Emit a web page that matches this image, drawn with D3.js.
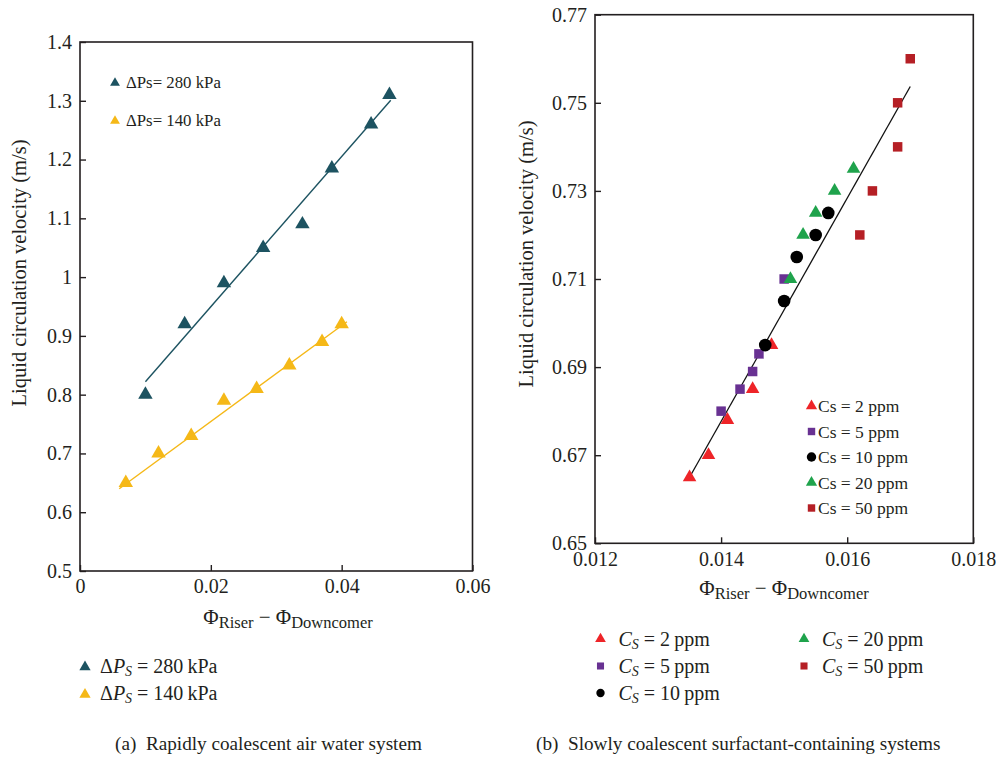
<!DOCTYPE html>
<html>
<head>
<meta charset="utf-8">
<script src="https://cdn.jsdelivr.net/npm/d3@7"></script>
<style>
  body { margin: 0; background: #fff; }
  svg text { font-family: "Liberation Serif", "DejaVu Serif", serif; fill: #231f20; }
</style>
</head>
<body>
<svg id="chart" width="996" height="759"></svg>
<script>

// ---- Data: panel (a) ----
var dpHighX = [0.010, 0.016, 0.022, 0.028, 0.034, 0.0385, 0.0445, 0.0473];
var dpHighY = [0.80, 0.92, 0.99, 1.05, 1.09, 1.185, 1.26, 1.31];
var dpLowX = [0.007, 0.012, 0.017, 0.022, 0.027, 0.032, 0.037, 0.040];
var dpLowY = [0.65, 0.70, 0.73, 0.79, 0.81, 0.85, 0.89, 0.92];
var fitHighX = [0.0100, 0.0475];
var fitHighY = [0.822, 1.301];
var fitLowX = [0.0060, 0.0408];
var fitLowY = [0.640, 0.924];
var xTicksA = [0, 0.02, 0.04, 0.06];
var yTicksA = [0.5, 0.6, 0.7, 0.8, 0.9, 1.0, 1.1, 1.2, 1.3, 1.4];

// ---- Data: panel (b) ----
var cs2X = [0.0135, 0.0138, 0.0141, 0.0145, 0.0148];
var cs2Y = [0.665, 0.670, 0.678, 0.685, 0.695];
var cs5X = [0.0140, 0.0143, 0.0145, 0.0146, 0.0150];
var cs5Y = [0.680, 0.685, 0.689, 0.693, 0.710];
var cs10X = [0.0147, 0.0150, 0.0152, 0.0155, 0.0157];
var cs10Y = [0.695, 0.705, 0.715, 0.720, 0.725];
var cs20X = [0.0151, 0.0153, 0.0155, 0.0158, 0.0161];
var cs20Y = [0.710, 0.720, 0.725, 0.730, 0.735];
var cs50X = [0.0162, 0.0164, 0.0168, 0.0168, 0.0170];
var cs50Y = [0.720, 0.730, 0.740, 0.750, 0.760];
var fitCsX = [0.0135, 0.0170];
var fitCsY = [0.665, 0.7537];
var xTicksB = [0.012, 0.014, 0.016, 0.018];
var yTicksB = [0.65, 0.67, 0.69, 0.71, 0.73, 0.75, 0.77];

var teal = "#1d5361", gold = "#f5b817";

var svg = d3.select("#chart");

function zip(xs, ys) {
    return xs.map(function(x, i) { return [x, ys[i]]; });
}

function frame(g, x, y, xTicks, yTicks, xFmt, yFmt, xPad) {
    var w = x.range()[1] - x.range()[0];
    var h = y.range()[0] - y.range()[1];

    var xAxis = g.append("g")
        .attr("transform", "translate(0," + y.range()[0] + ")")
        .call(d3.axisBottom(x).tickValues(xTicks).tickFormat(xFmt).tickSize(-6).tickPadding(xPad));
    var yAxis = g.append("g")
        .attr("transform", "translate(" + x.range()[0] + ",0)")
        .call(d3.axisLeft(y).tickValues(yTicks).tickFormat(yFmt).tickSize(-6).tickPadding(8));

    [xAxis, yAxis].forEach(function(a) {
        a.select(".domain").remove();
        a.selectAll("line").attr("stroke", "#231f20").attr("stroke-width", 1.4);
        a.selectAll("text").style("font-size", "20px").attr("fill", "#231f20");
    });

    g.append("rect")
        .attr("x", x.range()[0])
        .attr("y", y.range()[1])
        .attr("width", w)
        .attr("height", h)
        .attr("fill", "none")
        .attr("stroke", "#231f20")
        .attr("stroke-width", 1.6);
}

function phiTitle(g, cx, cy) {
    var t = g.append("text")
        .attr("x", cx)
        .attr("y", cy)
        .attr("text-anchor", "middle")
        .style("font-size", "21px");
    t.append("tspan").text("\u03A6");
    t.append("tspan").attr("dy", 4).style("font-size", "16.5px").text("Riser");
    t.append("tspan").attr("dy", -4).text(" \u2212 \u03A6");
    t.append("tspan").attr("dy", 4).style("font-size", "16.5px").text("Downcomer");
}

function yTitle(g, cx, cy) {
    g.append("text")
        .attr("transform", "translate(" + cx + "," + cy + ") rotate(-90)")
        .attr("text-anchor", "middle")
        .style("font-size", "20.5px")
        .text("Liquid circulation velocity (m/s)");
}

function marker(type, size) {
    return d3.symbol().type(type).size(size)();
}

// ---- Panel (a) ----
function panelA() {
    var g = svg.append("g").attr("class", "panel-a");
    var x = d3.scaleLinear().domain([0, 0.06]).range([80, 472.5]);
    var y = d3.scaleLinear().domain([0.5, 1.4]).range([571, 42]);

    frame(g, x, y, xTicksA, yTicksA, function(d) { return d === 0 ? "0" : d3.format(".2f")(d); }, function(d) { return d3.format("")(+d.toFixed(1)); }, 8);

    var line = d3.line().x(function(d) { return x(d[0]); }).y(function(d) { return y(d[1]); });

    var series = [
        { pts: zip(dpHighX, dpHighY), fit: zip(fitHighX, fitHighY), color: teal },
        { pts: zip(dpLowX, dpLowY), fit: zip(fitLowX, fitLowY), color: gold }
    ];

    series.forEach(function(s) {
        g.append("path")
            .attr("d", line(s.fit))
            .attr("fill", "none")
            .attr("stroke", s.color)
            .attr("stroke-width", 1.4);
        g.selectAll(null)
            .data(s.pts)
            .enter().append("path")
            .attr("d", marker(d3.symbolTriangle, 90))
            .attr("fill", s.color)
            .attr("transform", function(d) { return "translate(" + x(d[0]) + "," + y(d[1]) + ")"; });
    });

    // inner legend
    var inner = [{ c: teal, t: "\u0394Ps= 280 kPa" }, { c: gold, t: "\u0394Ps= 140 kPa" }];
    inner.forEach(function(d, i) {
        var yy = 82 + i * 38;
        g.append("path")
            .attr("d", marker(d3.symbolTriangle, 42))
            .attr("fill", d.c)
            .attr("transform", "translate(115," + (yy + 1) + ")");
        g.append("text")
            .attr("x", 126)
            .attr("y", yy + 5.5)
            .style("font-size", "16.8px")
            .text(d.t);
    });

    phiTitle(g, 288, 624);
    yTitle(g, 26, 273);

    // legend below
    var lower = [{ c: teal, v: "280" }, { c: gold, v: "140" }];
    lower.forEach(function(d, i) {
        var yy = 667 + i * 27.5;
        g.append("path")
            .attr("d", marker(d3.symbolTriangle, 55))
            .attr("fill", d.c)
            .attr("transform", "translate(85," + yy + ")");
        var t = g.append("text")
            .attr("x", 100)
            .attr("y", yy + 5.5)
            .style("font-size", "20px");
        t.append("tspan").text("\u0394");
        t.append("tspan").style("font-style", "italic").text("P");
        t.append("tspan").attr("dy", 3).style("font-style", "italic").style("font-size", "14px").text("S");
        t.append("tspan").attr("dy", -3).text(" = " + d.v + "\u2009kPa");
    });

    g.append("text")
        .attr("x", 115)
        .attr("y", 750)
        .style("font-size", "19.2px")
        .style("white-space", "pre")
        .text("(a)  Rapidly coalescent air water system");
}

// ---- Panel (b) ----
function panelB() {
    var g = svg.append("g").attr("class", "panel-b");
    var x = d3.scaleLinear().domain([0.012, 0.018]).range([595, 973.3]);
    var y = d3.scaleLinear().domain([0.65, 0.77]).range([543.3, 14.7]);

    frame(g, x, y, xTicksB, yTicksB, d3.format(".3f"), d3.format(".2f"), 9);

    var line = d3.line().x(function(d) { return x(d[0]); }).y(function(d) { return y(d[1]); });
    g.append("path")
        .attr("d", line(zip(fitCsX, fitCsY)))
        .attr("fill", "none")
        .attr("stroke", "#111")
        .attr("stroke-width", 1.3);

    var groups = [
        { pts: zip(cs2X, cs2Y), type: d3.symbolTriangle, size: 80, c: "#ee2428", label: "2" },
        { pts: zip(cs5X, cs5Y), type: d3.symbolSquare, size: 90, c: "#683192", label: "5" },
        { pts: zip(cs10X, cs10Y), type: d3.symbolCircle, size: 125, c: "#000000", label: "10" },
        { pts: zip(cs20X, cs20Y), type: d3.symbolTriangle, size: 80, c: "#1fa34c", label: "20" },
        { pts: zip(cs50X, cs50Y), type: d3.symbolSquare, size: 90, c: "#b51f25", label: "50" }
    ];

    groups.forEach(function(s) {
        g.selectAll(null)
            .data(s.pts)
            .enter().append("path")
            .attr("d", marker(s.type, s.size))
            .attr("fill", s.c)
            .attr("transform", function(d) { return "translate(" + x(d[0]) + "," + y(d[1]) + ")"; });
    });

    // inner legend
    groups.forEach(function(s, i) {
        var yy = 406 + i * 25.5;
        g.append("path")
            .attr("d", marker(s.type, s.type === d3.symbolCircle ? 70 : 55))
            .attr("fill", s.c)
            .attr("transform", "translate(811.5," + yy + ")");
        g.append("text")
            .attr("x", 818)
            .attr("y", yy + 6)
            .style("font-size", "17.5px")
            .text("Cs = " + s.label + " ppm");
    });

    phiTitle(g, 784, 595);
    yTitle(g, 533, 254);

    // legend below
    var pos = [[600.5, 639], [600.5, 666], [600.5, 693], [804, 639], [804, 666]];
    groups.forEach(function(s, i) {
        var p = pos[i];
        g.append("path")
            .attr("d", marker(s.type, s.type === d3.symbolCircle ? 55 : 50))
            .attr("fill", s.c)
            .attr("transform", "translate(" + p[0] + "," + p[1] + ")");
        var t = g.append("text")
            .attr("x", p[0] + 18)
            .attr("y", p[1] + 6.5)
            .style("font-size", "20px")
            .style("white-space", "pre");
        t.append("tspan").style("font-style", "italic").text("C");
        t.append("tspan").attr("dy", 3).style("font-style", "italic").style("font-size", "14px").text("S");
        t.append("tspan").attr("dy", -3).text(" = " + s.label + "\u2009ppm");
    });

    g.append("text")
        .attr("x", 536)
        .attr("y", 750)
        .style("font-size", "19.2px")
        .style("white-space", "pre")
        .text("(b)  Slowly coalescent surfactant-containing systems");
}

panelA();
panelB();

</script>
</body>
</html>
